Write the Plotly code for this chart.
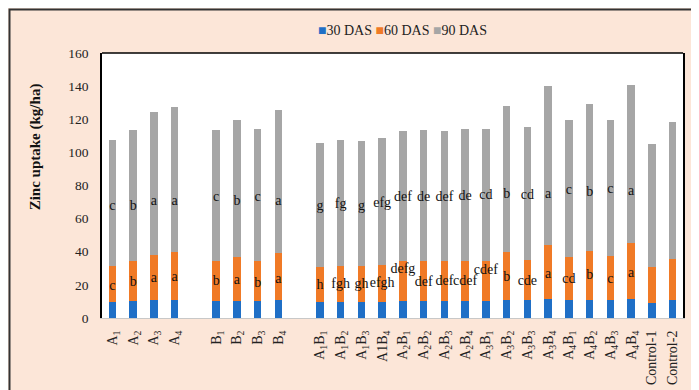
import plotly.graph_objects as go

# Category slots (None = empty gap slot on the category axis)
slots = ["A<sub>1</sub>", "A<sub>2</sub>", "A<sub>3</sub>", "A<sub>4</sub>", None,
         "B<sub>1</sub>", "B<sub>2</sub>", "B<sub>3</sub>", "B<sub>4</sub>", None,
         "A<sub>1</sub>B<sub>1</sub>", "A<sub>1</sub>B<sub>2</sub>", "A<sub>1</sub>B<sub>3</sub>", "A1B<sub>4</sub>",
         "A<sub>2</sub>B<sub>1</sub>", "A<sub>2</sub>B<sub>2</sub>", "A<sub>2</sub>B<sub>3</sub>", "A<sub>2</sub>B<sub>4</sub>",
         "A<sub>3</sub>B<sub>1</sub>", "A<sub>3</sub>B<sub>2</sub>", "A<sub>3</sub>B<sub>3</sub>", "A<sub>3</sub>B<sub>4</sub>",
         "A<sub>4</sub>B<sub>1</sub>", "A<sub>4</sub>B<sub>2</sub>", "A<sub>4</sub>B<sub>3</sub>", "A<sub>4</sub>B<sub>4</sub>",
         "Control-1", "Control-2"]

das30 = [9.9, 10.4, 11.0, 11.0, 10.4, 10.4, 10.4, 11.0,
         9.9, 9.9, 9.9, 9.9, 10.4, 10.4, 10.4, 10.4,
         10.4, 10.8, 10.8, 11.3, 10.8, 10.8, 10.8, 11.3,
         9.3, 10.8]
das60 = [21.3, 24.1, 27.3, 28.9, 23.8, 26.7, 24.3, 28.5,
         21.0, 21.6, 21.3, 22.3, 24.1, 24.3, 23.8, 24.3,
         24.3, 29.1, 24.3, 33.0, 26.3, 29.9, 26.7, 34.2,
         21.3, 24.6]
das90 = [76.2, 79.1, 86.1, 87.4, 79.4, 82.3, 79.5, 86.3,
         75.0, 76.2, 75.6, 76.2, 78.5, 78.9, 78.8, 79.3,
         79.7, 88.0, 80.3, 95.6, 82.7, 88.6, 82.3, 95.4,
         74.6, 83.0]

# Significance letters (empty for controls)
let60 = ["c", "b", "a", "a", "b", "a", "b", "a",
         "h", "fgh", "gh", "efgh", "defg", "def", "def", "cdef",
         "cdef", "b", "cde", "a", "cd", "b", "c", "a", "", ""]
let90 = ["c", "b", "a", "a", "c", "b", "c", "a",
         "g", "fg", "g", "efg", "def", "de", "def", "de",
         "cd", "b", "cd", "a", "c", "b", "c", "a", "", ""]

# Heights (in axis units) at which the letters sit
let60_at = [19.0, 21.4, 23.6, 24.4, 22.0, 22.4, 21.0, 23.4,
            19.4, 20.0, 20.4, 20.8, 29.0, 21.4, 22.0, 22.0,
            28.8, 24.4, 22.0, 26.4, 23.0, 25.4, 23.4, 26.8, 0, 0]
let90_at = [67.6, 67.2, 70.2, 70.6, 72.6, 70.6, 73.0, 70.2,
            67.2, 68.6, 67.2, 69.2, 72.6, 73.0, 72.6, 73.6,
            74.0, 74.6, 74.0, 74.6, 77.0, 75.6, 77.6, 76.2, 0, 0]

series = [("30 DAS", das30, "#1f6fc6"),
          ("60 DAS", das60, "#f07a26"),
          ("90 DAS", das90, "#a6a6a6")]

xpos = [i for i, s in enumerate(slots) if s is not None]
xlab = [s for s in slots if s is not None]

FONT = "Liberation Serif, Times New Roman, serif"
fig = go.Figure()
for name, vals, col in series:
    fig.add_trace(go.Bar(x=xpos, y=vals, name=name, marker_color=col,
                         marker_line_width=0, width=0.36, showlegend=False))

for labs, ys in ((let60, let60_at), (let90, let90_at)):
    xs = [x for x, l in zip(xpos, labs) if l]
    yy = [y for y, l in zip(ys, labs) if l]
    tt = [l for l in labs if l]
    fig.add_trace(go.Scatter(x=xs, y=yy, text=tt, mode="text", showlegend=False,
                             hoverinfo="skip",
                             textfont=dict(family=FONT, size=14, color="#111")))

L, R, T, B = 94, 24, 45, 79.5
W, H = 699, 390
pw, ph = W - L - R, H - T - B

def px_x(p):
    return (p - L) / pw

def px_y(p):
    return (H - B - p) / ph

legend_text = "".join(
    "<span style='color:%s'>■</span>%s%s" % (col, name, " " if i < len(series) - 1 else "")
    for i, (name, _, col) in enumerate(series))

fig.update_layout(
    width=W, height=H, barmode="stack", showlegend=False,
    margin=dict(l=L, r=R, t=T, b=B, autoexpand=False),
    paper_bgcolor="#fce6d8", plot_bgcolor="white",
    font=dict(family=FONT, size=13, color="#222"),
    xaxis=dict(range=[-0.5, len(slots) - 0.5], tickvals=xpos, ticktext=xlab,
               tickangle=-90, showgrid=False, zeroline=False,
               showline=True, linecolor="#c8c8c8", linewidth=1,
               ticks="", ticklabelstandoff=6,
               tickfont=dict(family=FONT, size=14, color="#222")),
    yaxis=dict(range=[0, 160], dtick=20, showgrid=False, zeroline=False,
               showline=True, linecolor="black", linewidth=1.5, mirror=True,
               ticks="", ticklabelstandoff=9,
               tickfont=dict(family=FONT, size=13.5, color="#222")),
    shapes=[
        dict(type="line", xref="paper", yref="paper", x0=0, x1=1, y0=1, y1=1,
             line=dict(color="black", width=1.5)),
        dict(type="rect", xref="paper", yref="paper",
             x0=px_x(1.5), x1=px_x(W - 1.5), y0=px_y(H - 1.5), y1=px_y(1.5),
             line=dict(color="#333", width=2), layer="below"),
    ],
    annotations=[
        dict(text="<b>Zinc uptake (kg/ha)</b>", textangle=-90, showarrow=False,
             xref="paper", yref="paper", x=px_x(27), y=px_y(139.5),
             xanchor="center", yanchor="middle",
             font=dict(family=FONT, size=15, color="#111")),
        dict(text=legend_text, showarrow=False,
             xref="paper", yref="paper", x=px_x(394), y=px_y(22),
             xanchor="center", yanchor="middle",
             font=dict(family=FONT, size=14, color="#222")),
    ],
)

fig.write_html("out.html")
